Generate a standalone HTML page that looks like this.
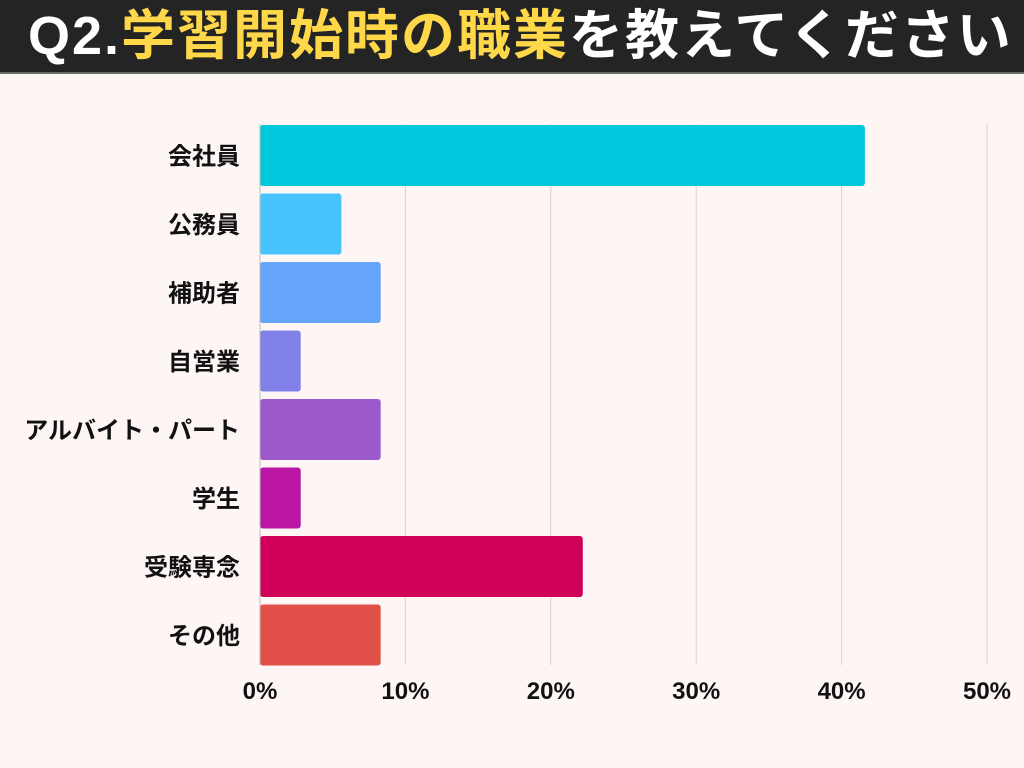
<!DOCTYPE html>
<html><head><meta charset="utf-8">
<style>
html,body{margin:0;padding:0}
body{width:1024px;height:768px;background:#fdf6f5;position:relative;overflow:hidden;font-family:"Liberation Sans","Noto Sans CJK JP",sans-serif}
#hdr{position:absolute;left:0;top:0;width:1024px;height:72px;background:#242424;border-bottom:2px solid #6a6a6a}
#title{position:absolute;left:28px;top:4px;font-size:54px;font-weight:bold;color:#fff;white-space:nowrap;letter-spacing:2px;line-height:64px}
#title .y{color:#ffd84a}
svg{position:absolute;left:0;top:0}
</style></head><body>
<div id="hdr"><div id="title">Q2.<span class="y">学習開始時の職業</span>を教えてください</div></div>
<svg id="chart" width="1024" height="768"></svg>
<script>
const categories=["会社員","公務員","補助者","自営業","アルバイト・パート","学生","受験専念","その他"];
const values=[41.6,5.6,8.3,2.8,8.3,2.8,22.2,8.3];
const colors=["#00c8dc","#48c4fc","#64a4fa","#8080e8","#9b59cc","#bb16a3","#d0005a","#e05048"];
const ticks=[0,10,20,30,40,50];
const tickLabels=["0%","10%","20%","30%","40%","50%"];
const svg=document.getElementById('chart');
const NS='http://www.w3.org/2000/svg';
const x0=260,x1=987,plotTop=125,pitch=68.5,bh=61;
const xs=v=>x0+(v/50)*(x1-x0);
const ys=i=>plotTop+i*pitch;
function mk(t,a){const e=document.createElementNS(NS,t);for(const k in a)e.setAttribute(k,a[k]);svg.appendChild(e);return e;}
ticks.forEach((t,i)=>{
  if(i>0){const l=mk('line',{x1:xs(t),x2:xs(t),y1:124,y2:665,stroke:'#d8d4d4','stroke-width':1});
  
  }
  const tx=mk('text',{x:xs(t),y:699,'text-anchor':'middle','font-size':24,'font-weight':'bold',fill:'#111'});
  tx.textContent=tickLabels[i];
  
  
});
categories.forEach((c,i)=>{
  const r=mk('rect',{x:x0,y:ys(i),width:xs(values[i])-x0,height:bh,rx:3,fill:colors[i]});
  
  
  const tx=mk('text',{x:240,y:ys(i)+bh/2+9,'text-anchor':'end','font-size':24,'font-weight':'bold',fill:'#111'});
  tx.textContent=c;
  
  
});
const ax=mk('line',{x1:x0,x2:x0,y1:124,y2:665,stroke:'#bbb','stroke-width':1});


</script>
</body></html>
